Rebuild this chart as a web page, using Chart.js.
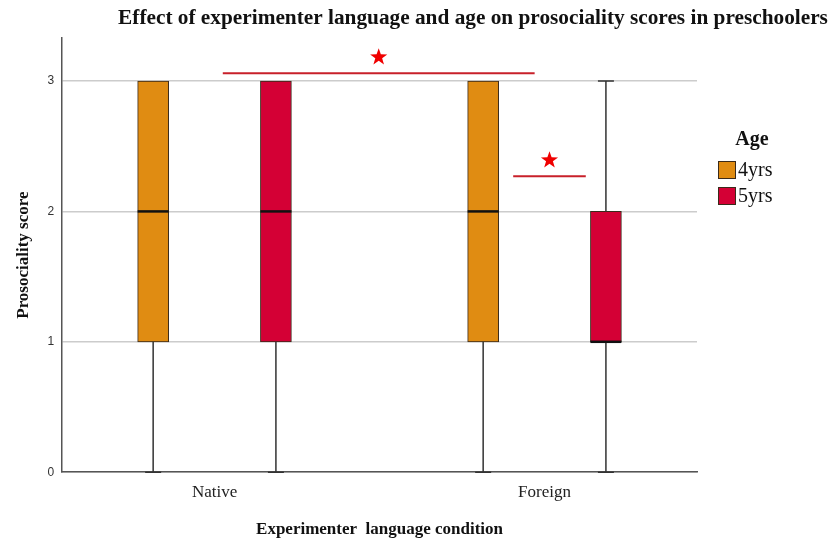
<!DOCTYPE html>
<html>
<head>
<meta charset="utf-8">
<script src="https://cdn.jsdelivr.net/npm/chart.js@4/dist/chart.umd.min.js"></script>
<style>
  html, body { margin: 0; padding: 0; background: #fff; }
  #wrap { width: 835px; height: 540px; }
</style>
</head>
<body>
<div id="wrap"><canvas id="chart"></canvas></div>
<script>
// categories and groups
const conditions = ['Native', 'Foreign'];
const ages = ['4yrs', '5yrs'];
const ageColors = ['#E08C12', '#D40035'];

// five-number summaries per age, one entry per condition
const minVals    = [[0, 0], [0, 0]];
const q1Vals     = [[1, 1], [1, 1]];
const medianVals = [[2, 2], [2, 1]];
const q3Vals     = [[3, 3], [3, 2]];
const maxVals    = [[3, 3], [3, 3]];

const yTicks = [0, 1, 2, 3];

// significance brackets: [xFrom, xTo, y]
const sigLines = [[1.025, 1.97, 3.06], [1.905, 2.125, 2.27]];

const ageOffset = 0.186;
const SERIF = '"Liberation Serif", "Times New Roman", serif';
const SANS = '"Liberation Sans", Arial, sans-serif';

const datasets = ages.map((age, a) => ({
  label: age,
  data: conditions.map((c, i) => ({
    x: i + 1 + (a === 0 ? -ageOffset : ageOffset),
    y: [q1Vals[a][i], q3Vals[a][i]]
  })),
  backgroundColor: ageColors[a],
  borderColor: '#3a2a1a',
  borderWidth: 1,
  borderSkipped: false,
  barThickness: 31,
  grouped: false
}));

function drawStar(ctx, cx, cy, r) {
  ctx.beginPath();
  for (let k = 0; k < 10; k++) {
    const rad = k % 2 === 0 ? r : r * 0.4;
    const ang = -Math.PI / 2 + k * Math.PI / 5;
    const px = cx + rad * Math.cos(ang), py = cy + rad * Math.sin(ang);
    k === 0 ? ctx.moveTo(px, py) : ctx.lineTo(px, py);
  }
  ctx.closePath();
  ctx.fill();
}

const boxPlugin = {
  id: 'boxExtras',
  afterDatasetsDraw(chart) {
    const ctx = chart.ctx;
    const xs = chart.scales.x, ys = chart.scales.y;
    ctx.save();
    ages.forEach((age, a) => {
      const meta = chart.getDatasetMeta(a);
      meta.data.forEach((bar, i) => {
        const x = bar.x, half = 15.5;
        // whiskers
        ctx.strokeStyle = '#333';
        ctx.lineWidth = 1.5;
        ctx.beginPath();
        if (maxVals[a][i] > q3Vals[a][i]) {
          ctx.moveTo(x, ys.getPixelForValue(q3Vals[a][i]));
          ctx.lineTo(x, ys.getPixelForValue(maxVals[a][i]));
          ctx.moveTo(x - 8, ys.getPixelForValue(maxVals[a][i]));
          ctx.lineTo(x + 8, ys.getPixelForValue(maxVals[a][i]));
        }
        if (minVals[a][i] < q1Vals[a][i]) {
          ctx.moveTo(x, ys.getPixelForValue(q1Vals[a][i]));
          ctx.lineTo(x, ys.getPixelForValue(minVals[a][i]));
          ctx.moveTo(x - 8, ys.getPixelForValue(minVals[a][i]));
          ctx.lineTo(x + 8, ys.getPixelForValue(minVals[a][i]));
        }
        ctx.stroke();
        // median
        ctx.strokeStyle = '#111';
        ctx.lineWidth = 2.5;
        ctx.beginPath();
        const my = ys.getPixelForValue(medianVals[a][i]);
        ctx.moveTo(x - half, my);
        ctx.lineTo(x + half, my);
        ctx.stroke();
      });
    });
    // significance lines and stars
    sigLines.forEach(([x0, x1, y]) => {
      const py = ys.getPixelForValue(y);
      const p0 = xs.getPixelForValue(x0), p1 = xs.getPixelForValue(x1);
      ctx.strokeStyle = '#C8202A';
      ctx.lineWidth = 2;
      ctx.beginPath();
      ctx.moveTo(p0, py);
      ctx.lineTo(p1, py);
      ctx.stroke();
      ctx.fillStyle = '#F00000';
      drawStar(ctx, (p0 + p1) / 2, py - 16, 9);
    });
    ctx.restore();
  },
  afterDraw(chart) {
    const ctx = chart.ctx;
    ctx.save();
    // title
    ctx.fillStyle = '#111';
    ctx.font = 'bold 21.3px ' + SERIF;
    ctx.textAlign = 'center';
    ctx.textBaseline = 'middle';
    ctx.fillText('Effect of experimenter language and age on prosociality scores in preschoolers', 473, 18);
    // legend
    ctx.font = 'bold 20px ' + SERIF;
    ctx.fillText('Age', 752, 140);
    ctx.font = '20px ' + SERIF;
    ctx.textAlign = 'left';
    ages.forEach((age, a) => {
      const top = 161 + a * 26;
      ctx.fillStyle = ageColors[a];
      ctx.fillRect(718, top, 18, 18);
      ctx.strokeStyle = '#3a2a1a';
      ctx.lineWidth = 1;
      ctx.strokeRect(718.5, top + 0.5, 17, 17);
      ctx.fillStyle = '#111';
      ctx.fillText(age, 738, top + 10);
    });
    ctx.restore();
  }
};

new Chart(document.getElementById('chart'), {
  type: 'bar',
  data: { datasets },
  options: {
    responsive: true,
    maintainAspectRatio: false,
    animation: false,
    layout: { padding: { top: 38, right: 138, left: 13, bottom: 0 } },
    plugins: {
      legend: { display: false },
      title: { display: false },
      tooltip: { enabled: false }
    },
    scales: {
      x: {
        type: 'linear',
        offset: false,
        min: 0.538,
        max: 2.462,
        afterBuildTicks: s => { s.ticks = conditions.map((c, i) => ({ value: i + 1 })); },
        ticks: {
          callback: v => conditions[v - 1],
          font: { family: SERIF, size: 17 },
          color: '#222',
          padding: 10
        },
        grid: { display: false, drawTicks: false },
        border: { color: '#555', width: 1.5 },
        title: {
          display: true,
          text: 'Experimenter  language condition',
          font: { family: SERIF, size: 17, weight: 'bold' },
          color: '#111',
          padding: { top: 7, bottom: 0 }
        }
      },
      y: {
        min: 0,
        max: 3.33,
        afterBuildTicks: s => { s.ticks = yTicks.map(v => ({ value: v })); },
        ticks: {
          font: { family: SANS, size: 12 },
          color: '#333',
          padding: 8
        },
        grid: { color: '#cccccc', lineWidth: 1.5, drawTicks: false },
        border: { color: '#555', width: 1.5 },
        title: {
          display: true,
          text: 'Prosociality score',
          font: { family: SERIF, size: 17, weight: 'bold' },
          color: '#111',
          padding: { top: 0, bottom: 6 }
        }
      }
    }
  },
  plugins: [boxPlugin]
});
</script>
</body>
</html>
